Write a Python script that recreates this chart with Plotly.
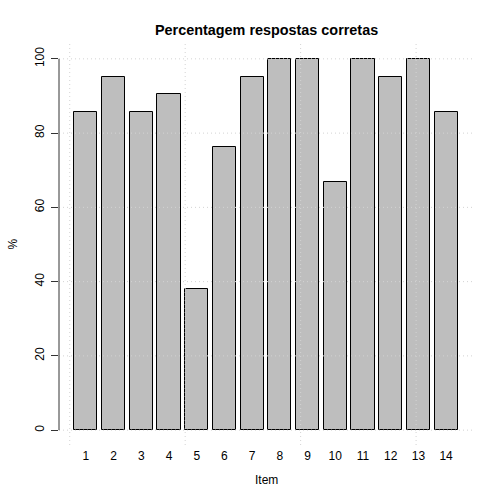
import plotly.graph_objects as go

items = [str(i) for i in range(1, 15)]
pct = [85.7, 95.2, 85.7, 90.5, 38.1, 76.2, 95.2, 100, 100, 66.7, 100, 95.2, 100, 85.7]
yticks = [0, 20, 40, 60, 80, 100]
xgrid = [0, 5, 10, 15]

centers = [0.7 + 1.2 * i for i in range(len(items))]

fig = go.Figure()
fig.add_trace(go.Bar(
    x=centers, y=pct, width=1.0,
    marker=dict(color="#BEBEBE", line=dict(color="black", width=1)),
    hoverinfo="y",
))

grid_line = dict(color="#D3D3D3", width=1, dash="1px,3px")
shapes = []
for v in yticks:
    shapes.append(dict(type="line", xref="paper", yref="y", x0=0, x1=1, y0=v, y1=v,
                       line=grid_line, layer="above"))
for v in xgrid:
    shapes.append(dict(type="line", xref="x", yref="paper", x0=v, x1=v, y0=0, y1=1,
                       line=grid_line, layer="above"))
shapes.append(dict(type="line", xref="paper", yref="y", x0=0, x1=0, y0=0, y1=100,
                   line=dict(color="#333333", width=1), layer="above"))

fig.update_layout(
    width=504, height=504,
    margin=dict(l=59, r=31, t=44, b=59),
    paper_bgcolor="white", plot_bgcolor="white",
    font=dict(family="Liberation Sans, Arial, sans-serif", size=12, color="black"),
    showlegend=False,
    bargap=0,
    shapes=shapes,
    xaxis=dict(range=[-0.464, 17.464], tickvals=centers, ticktext=items,
               showgrid=False, zeroline=False, showline=False, ticks="",
               ticklabelstandoff=2, tickfont=dict(size=12)),
    yaxis=dict(range=[-4, 104], tickvals=yticks, ticktext=[str(v) for v in yticks],
               showgrid=False, zeroline=False, showline=False,
               ticks="outside", ticklen=7, tickcolor="#333333", tickwidth=1,
               tickangle=-90, ticklabelstandoff=2, tickfont=dict(size=12)),
    annotations=[
        dict(text="<b>Percentagem respostas corretas</b>", xref="paper", yref="paper",
             x=0.5, y=1, yshift=14, showarrow=False, font=dict(size=14.4),
             xanchor="center", yanchor="middle"),
        dict(text="Item", xref="paper", yref="paper", x=0.5, y=0, yshift=-35,
             showarrow=False, font=dict(size=12), xanchor="center", yanchor="middle"),
        dict(text="%", xref="paper", yref="paper", x=0, y=0.5, xshift=-47,
             showarrow=False, textangle=-90, font=dict(size=12),
             xanchor="center", yanchor="middle"),
    ],
)

fig.write_html("out.html", config={"displayModeBar": False},
               post_script="document.body.style.margin='0';")
